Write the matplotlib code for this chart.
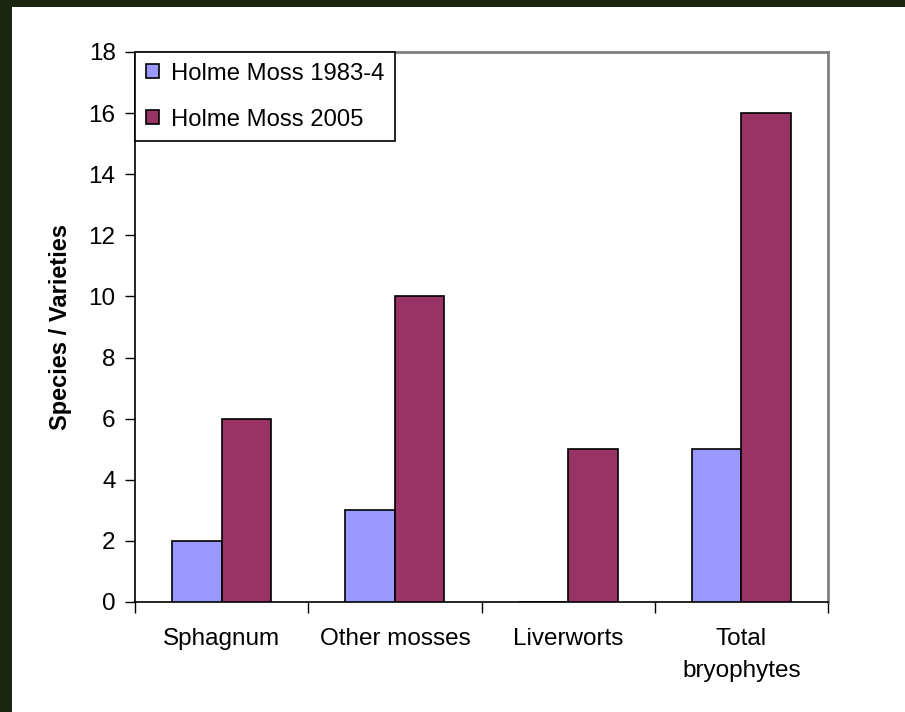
import matplotlib
matplotlib.use("Agg")
import matplotlib.pyplot as plt
import numpy as np
from matplotlib.patches import Rectangle

plt.rcParams['font.family'] = ['Liberation Sans', 'DejaVu Sans']

categories = ["Sphagnum", "Other mosses", "Liverworts", "Total\nbryophytes"]
series_names = ["Holme Moss 1983-4", "Holme Moss 2005"]
values_1983 = [2, 3, 0, 5]
values_2005 = [6, 10, 5, 16]
colors = ["#9999FF", "#993366"]
y_ticks = [0, 2, 4, 6, 8, 10, 12, 14, 16, 18]

fig = plt.figure(figsize=(9.05, 7.12), dpi=100)
fig.patch.set_facecolor("white")

# dark frame strips on left and top edges
fig.patches.append(Rectangle((0, 0), 12 / 905, 1, transform=fig.transFigure,
                             facecolor="#1b2610", edgecolor="none", zorder=0))
fig.patches.append(Rectangle((0, 1 - 7 / 712), 1, 7 / 712, transform=fig.transFigure,
                             facecolor="#1b2610", edgecolor="none", zorder=0))

ax = fig.add_axes([135 / 905, 1 - 602 / 712, (828 - 135) / 905, (602 - 52) / 712])

x = np.arange(len(categories))
w = 0.285
ax.bar(x - w / 2, values_1983, width=w, color=colors[0], edgecolor="black",
       linewidth=1.2, label=series_names[0], zorder=3)
ax.bar(x + w / 2, values_2005, width=w, color=colors[1], edgecolor="black",
       linewidth=1.2, label=series_names[1], zorder=3)

fs = 17.5
ax.set_xlim(-0.5, len(categories) - 0.5)
ax.set_ylim(0, 18)
ax.set_yticks(y_ticks)
ax.tick_params(axis="y", direction="out", length=7, width=1, labelsize=fs, pad=7)

ax.set_xticks(x)
ax.set_xticklabels(categories, fontsize=fs, linespacing=1.55)
ax.tick_params(axis="x", which="major", length=0, pad=19)
ax.set_xticks(np.arange(-0.5, len(categories)), minor=True)
ax.tick_params(axis="x", which="minor", direction="out", length=8, width=1)

ax.set_ylabel("Species / Varieties", fontsize=17, fontweight="bold", labelpad=12)

for side in ("left", "bottom"):
    ax.spines[side].set_color("black")
    ax.spines[side].set_linewidth(1.2)
for side in ("top", "right"):
    ax.spines[side].set_color("#808080")
    ax.spines[side].set_linewidth(2)

leg = ax.legend(loc="upper left", bbox_to_anchor=(0, 1), borderaxespad=0,
                fontsize=17.2, fancybox=False, framealpha=1, edgecolor="black",
                handlelength=0.55, handleheight=0.55, handletextpad=0.5,
                borderpad=0.45, labelspacing=1.0)
leg.get_frame().set_linewidth(1.2)

fig.savefig("out.png", dpi=100)
